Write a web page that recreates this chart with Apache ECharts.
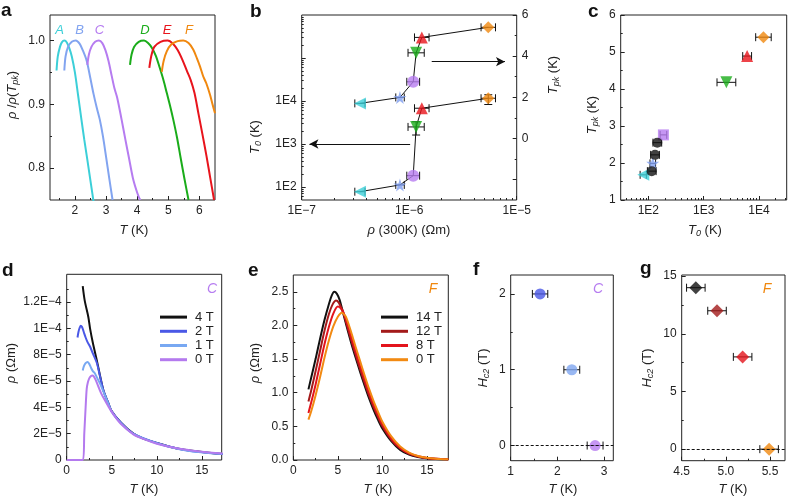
<!DOCTYPE html>
<html><head><meta charset="utf-8">
<script src="https://cdn.jsdelivr.net/npm/echarts@6/dist/echarts.min.js"></script>
<style>html,body{margin:0;padding:0;background:#fff}#c{width:788px;height:498px}</style>
</head><body><div id="c"></div>
<script>
const F = "'Liberation Sans', Arial, Helvetica, sans-serif";
const INK = '#222';

// ---------- Panel a : rho/rho(Tpk) vs T ----------
const aCurveA = [[1.41,0.953],[1.45,0.975],[1.52,0.99],[1.58,0.997],[1.66,1.0],[1.74,0.997],[1.82,0.988],[1.9,0.975],[2.0,0.95],[2.1,0.915],[2.21,0.876],[2.3,0.845],[2.4,0.813],[2.5,0.78],[2.6,0.747]];
const aCurveB = [[1.66,0.953],[1.7,0.975],[1.78,0.99],[1.9,0.998],[2.03,1.0],[2.15,0.995],[2.25,0.985],[2.38,0.968],[2.5,0.94],[2.6,0.916],[2.7,0.895],[2.8,0.876],[2.9,0.85],[3.0,0.818],[3.1,0.785],[3.21,0.75]];
const aCurveC = [[2.4,0.962],[2.45,0.978],[2.53,0.99],[2.65,0.998],[2.77,1.0],[2.88,0.996],[2.98,0.985],[3.08,0.968],[3.18,0.945],[3.27,0.925],[3.36,0.91],[3.5,0.876],[3.62,0.845],[3.74,0.815],[3.86,0.785],[3.97,0.766],[4.05,0.755],[4.1,0.75]];
const aCurveD = [[3.77,0.962],[3.82,0.978],[3.9,0.99],[4.05,0.998],[4.22,1.0],[4.35,0.996],[4.48,0.988],[4.6,0.976],[4.72,0.958],[4.85,0.937],[4.95,0.918],[5.06,0.897],[5.16,0.876],[5.28,0.848],[5.4,0.815],[5.52,0.783],[5.65,0.75]];
const aCurveE = [[4.39,0.957],[4.45,0.975],[4.55,0.99],[4.75,0.998],[4.98,1.0],[5.15,0.995],[5.3,0.985],[5.45,0.97],[5.6,0.952],[5.72,0.938],[5.84,0.918],[5.97,0.885],[6.1,0.852],[6.23,0.818],[6.35,0.784],[6.47,0.75]];
const aCurveF = [[4.79,0.951],[4.85,0.968],[4.95,0.983],[5.1,0.994],[5.3,0.999],[5.48,1.0],[5.65,0.996],[5.8,0.986],[5.92,0.972],[6.02,0.959],[6.12,0.944],[6.22,0.933],[6.34,0.915],[6.42,0.9],[6.5,0.886]];
const aNames = ['A','B','C','D','E','F'];

// ---------- Panel b : T0 and Tpk vs rho(300K) ----------
const bRho   = [3.48e-7, 8.2e-7, 1.09e-6, 1.16e-6, 1.31e-6, 5.44e-6];
const bRhoLo = [3.12e-7, 7.5e-7, 9.5e-7, 9.75e-7, 1.12e-6, 4.66e-6];
const bRhoHi = [3.88e-7, 9.0e-7, 1.25e-6, 1.38e-6, 1.53e-6, 6.35e-6];
const bTpk   = [1.70, 1.99, 2.75, 4.16, 4.91, 5.40];
const bT0    = [78, 112, 184, 2500, 6800, 11600];
const bT0Lo  = [78, 112, 184, 1620, 6800, 8300];
const bT0Hi  = [78, 112, 184, 3300, 6800, 14000];

// ---------- Panel c : Tpk vs T0 ----------
const cT0   = [81, 120, 187, 2570, 6100, 12000];
const cT0Lo = [71, 107, 163, 1740, 5070, 8700];
const cT0Hi = [92, 135, 215, 3800, 7330, 16600];
const cTpk  = [1.68, 1.99, 2.76, 4.18, 4.89, 5.40];
const cBlackT0   = [115, 132, 145];
const cBlackT0Lo = [96, 110, 121];
const cBlackT0Hi = [138, 158, 174];
const cBlackTpk  = [1.78, 2.22, 2.55];

// ---------- Panel d : sample C in field ----------
const d4T = [[1.78,1.32e-4],[2.0,1.21e-4],[2.4,1.086e-4],[2.59,1.0e-4],[2.9,8.9e-5],[3.33,7.6e-5],[3.7,6.4e-5],[4.07,5.3e-5],[4.6,4.35e-5],[5.0,3.7e-5],[6,2.85e-5],[7.4,2.0e-5],[8.5,1.62e-5],[10,1.3e-5],[12.2,8.8e-6],[14.8,6.3e-6],[17.3,4.5e-6]];
const d2T = [[1.2,9.3e-5],[1.3,9.7e-5],[1.42,1.0e-4],[1.55,1.02e-4],[1.7,1.01e-4],[1.9,9.7e-5],[2.1,9.3e-5],[2.3,8.97e-5],[2.6,8.6e-5],[2.9,8.1e-5],[3.33,7.4e-5],[3.7,6.35e-5],[4.07,5.3e-5],[4.6,4.35e-5],[5.0,3.7e-5],[6,2.85e-5],[7.4,2.0e-5],[10,1.29e-5],[13.3,7.3e-6],[17.3,4.6e-6]];
const d1T = [[1.78,6.8e-5],[1.9,7.1e-5],[2.1,7.35e-5],[2.3,7.45e-5],[2.5,7.3e-5],[2.7,7.0e-5],[2.9,6.75e-5],[3.1,6.6e-5],[3.4,6.2e-5],[3.7,5.8e-5],[4.07,5.2e-5],[4.6,4.3e-5],[5.0,3.65e-5],[6,2.8e-5],[7.4,1.98e-5],[10,1.27e-5],[13.3,7.2e-6],[17.3,4.5e-6]];
const d0T = [[0,0],[1.8,0],[1.95,2.0e-5],[2.1,4.0e-5],[2.22,5.4e-5],[2.35,5.9e-5],[2.5,6.2e-5],[2.7,6.38e-5],[2.85,6.42e-5],[3.0,6.35e-5],[3.2,6.1e-5],[3.5,5.6e-5],[3.8,5.1e-5],[4.1,4.7e-5],[4.6,4.1e-5],[5.2,3.45e-5],[6,2.75e-5],[7.4,1.95e-5],[8.5,1.6e-5],[10,1.24e-5],[12.2,9e-6],[14.8,6.5e-6],[17.3,4.9e-6]];
const dLegend = ['4 T','2 T','1 T','0 T'];

// ---------- Panel e : sample F in field ----------
const e14T = [[1.7,1.05],[2,1.22],[2.5,1.5],[3,1.8],[3.5,2.08],[4,2.32],[4.3,2.44],[4.6,2.5],[4.9,2.47],[5.2,2.38],[5.6,2.18],[6,1.98],[6.5,1.74],[7,1.52],[7.5,1.31],[8,1.11],[8.5,0.92],[9,0.75],[9.5,0.6],[10,0.47],[11,0.28],[12,0.15],[13,0.08],[14,0.045],[15,0.025],[16,0.015],[17.4,0.01]];
const e12T = [[1.7,0.87],[2,1.03],[2.5,1.32],[3,1.62],[3.5,1.92],[4,2.17],[4.4,2.31],[4.8,2.37],[5.1,2.34],[5.4,2.26],[5.6,2.2],[6,2.01],[6.5,1.78],[7,1.56],[7.5,1.35],[8,1.15],[8.5,0.96],[9,0.79],[9.5,0.64],[10,0.5],[11,0.3],[12,0.17],[13,0.09],[14,0.05],[15,0.028],[16,0.017],[17.4,0.01]];
const e8T  = [[1.7,0.7],[2,0.85],[2.5,1.12],[3,1.42],[3.5,1.72],[4,1.98],[4.5,2.18],[5.0,2.28],[5.3,2.26],[5.6,2.2],[6,2.05],[6.5,1.83],[7,1.61],[7.5,1.4],[8,1.2],[8.5,1.0],[9,0.83],[9.5,0.67],[10,0.53],[11,0.32],[12,0.18],[13,0.1],[14,0.055],[15,0.03],[16,0.018],[17.4,0.011]];
const e0T  = [[1.7,0.6],[2,0.72],[2.5,0.96],[3,1.23],[3.5,1.52],[4,1.78],[4.5,1.99],[5,2.13],[5.44,2.19],[5.8,2.15],[6,2.1],[6.5,1.9],[7,1.68],[7.5,1.47],[8,1.26],[8.5,1.06],[9,0.88],[9.5,0.72],[10,0.57],[11,0.35],[12,0.2],[13,0.11],[14,0.06],[15,0.033],[16,0.02],[17.4,0.012]];
const eLegend = ['14 T','12 T','8 T','0 T'];

// ---------- Panel f / g : Hc2 vs T ----------
const fT = [1.63, 2.31, 2.81];
const fTLo = [1.465, 2.14, 2.64];
const fTHi = [1.795, 2.48, 2.98];
const fH = [2, 1, 0];
const gT = [4.66, 4.90, 5.19, 5.49];
const gTLo = [4.555, 4.795, 5.085, 5.385];
const gTHi = [4.765, 5.005, 5.295, 5.595];
const gH = [14, 12, 8, 0];

// ---------- tick labels ----------
const aXLabels = [2,3,4,5,6], aXMinor = [1.5,2.5,3.5,4.5,5.5];
const aYLabels = [0.8,0.9,1.0], aYMinor = [0.85,0.95];
const bXLabels = [1e-7,1e-6,1e-5];
const bXMinor = [2e-7,3e-7,4e-7,5e-7,6e-7,7e-7,8e-7,9e-7,2e-6,3e-6,4e-6,5e-6,6e-6,7e-6,8e-6,9e-6];
const bYLabels = [1e2,1e3,1e4], bYMajor = [1e2,1e3,1e4,1e5];
const bYMinor = [60,70,80,90,200,300,400,500,600,700,800,900,2e3,3e3,4e3,5e3,6e3,7e3,8e3,9e3,2e4,3e4,4e4,5e4,6e4,7e4,8e4,9e4,2e5,3e5,4e5,5e5,6e5,7e5,8e5,9e5];
const bY2Labels = [0,2,4,6], bY2Major = [-2,0,2,4,6], bY2Minor = [-1,1,3,5];
const cXLabels = [1e2,1e3,1e4];
const cXMinor = [40,50,60,70,80,90,200,300,400,500,600,700,800,900,2e3,3e3,4e3,5e3,6e3,7e3,8e3,9e3,2e4,3e4];
const cYLabels = [1,2,3,4,5,6], cYMinor = [1.5,2.5,3.5,4.5,5.5];
const dXLabels = [0,5,10,15], dXMinor = [2.5,7.5,12.5];
const dYLabels = [0,2e-5,4e-5,6e-5,8e-5,1e-4,1.2e-4], dYMinor = [1e-5,3e-5,5e-5,7e-5,9e-5,1.1e-4,1.3e-4];
const eYLabels = [0,0.5,1.0,1.5,2.0,2.5], eYMinor = [0.25,0.75,1.25,1.75,2.25];
const fXLabels = [1,2,3], fXMinor = [1.5,2.5];
const fYLabels = [0,1,2], fYMinor = [0.5,1.5];
const gXLabels = [4.5,5.0,5.5], gXMinor = [4.75,5.25];
const gYLabels = [0,5,10,15], gYMinor = [2.5,7.5,12.5];

// ---------- helpers ----------
const MINUS = '\u2212';
function fmtLog(v){ const e = Math.round(Math.log10(v)); return '1E' + String(e).replace('-', MINUS); }
function fmtSci(v){ if (Math.abs(v) < 1e-12) return '0'; const e = Math.floor(Math.log10(v) + 1e-9); const m = Math.round(v / Math.pow(10, e) * 10) / 10; return m + 'E' + String(e).replace('-', MINUS); }
function fmt1(v){ return v.toFixed(1); }

const grids = [], xAxes = [], yAxes = [], series = [], legends = [];
function axisOf(s, gi, pos, minor){
  const o = {
    type: s.log ? 'log' : 'value', gridIndex: gi, position: pos, min: s.min, max: s.max,
    axisLine: {show: false, onZero: false}, splitLine: {show: false}, splitArea: {show: false},
    minorTick: {show: false}, minorSplitLine: {show: false},
    axisTick: {show: true, inside: true, length: minor ? 2 : 4, lineStyle: {color: INK, width: 1}, customValues: minor ? (s.minor || []) : (s.major || s.labels)},
    axisLabel: minor ? {show: false} : {show: true, margin: 5, color: INK, fontSize: 12, fontFamily: F, customValues: s.labels, formatter: s.fmt, hideOverlap: false},
    axisPointer: {show: false}
  };
  if (s.log) o.logBase = 10;
  if (minor && !(s.minor && s.minor.length)) o.axisTick.show = false;
  return o;
}
function panel(rect, xs, ys, ys2){
  const gi = grids.length;
  const base = {left: rect[0], top: rect[1], width: rect[2], height: rect[3], containLabel: false, outerBoundsMode: 'none'};
  grids.push(Object.assign({show: true, borderColor: INK, borderWidth: 1, backgroundColor: 'transparent'}, base));
  grids.push(Object.assign({show: false}, base));
  const xi = xAxes.length;
  xAxes.push(axisOf(xs, gi, 'bottom', false));
  xAxes.push(axisOf(xs, gi + 1, 'bottom', true));
  const yi = yAxes.length;
  yAxes.push(axisOf(ys, gi, 'left', false));
  yAxes.push(axisOf(ys, gi + 1, 'left', true));
  let yi2 = null;
  if (ys2){ yi2 = yAxes.length; yAxes.push(axisOf(ys2, gi, 'right', false)); yAxes.push(axisOf(ys2, gi + 1, 'right', true)); }
  return {xi, yi, yi2};
}
function lineS(p, data, color, width, name, yi){
  return {type: 'line', name: name, xAxisIndex: p.xi, yAxisIndex: yi == null ? p.yi : yi, data: data,
    symbol: 'none', showSymbol: false, smooth: 0.3, silent: true, z: 2,
    lineStyle: {color: color, width: width}, itemStyle: {color: color}};
}
function errS(xi, yi, xs, ys, lo, hi, ylo, yhi){
  const data = xs.map((x, i) => [x, ys[i], lo[i], hi[i], ylo ? ylo[i] : ys[i], yhi ? yhi[i] : ys[i]]);
  return {type: 'custom', xAxisIndex: xi, yAxisIndex: yi, z: 3, silent: true, clip: false,
    dimensions: ['x','y','xl','xh','yl','yh'], encode: {x: 0, y: 1}, data: data,
    renderItem: function(params, api){
      const y = api.value(1), xl = api.value(2), xh = api.value(3), yl = api.value(4), yh = api.value(5), x = api.value(0);
      const p1 = api.coord([xl, y]), p2 = api.coord([xh, y]);
      const st = {stroke: '#111', lineWidth: 1};
      const cap = 4;
      const ch = [
        {type: 'line', shape: {x1: p1[0], y1: p1[1], x2: p2[0], y2: p2[1]}, style: st},
        {type: 'line', shape: {x1: p1[0], y1: p1[1] - cap, x2: p1[0], y2: p1[1] + cap}, style: st},
        {type: 'line', shape: {x1: p2[0], y1: p2[1] - cap, x2: p2[0], y2: p2[1] + cap}, style: st}
      ];
      if (yl !== yh){
        const q1 = api.coord([x, yl]), q2 = api.coord([x, yh]);
        ch.push({type: 'line', shape: {x1: q1[0], y1: q1[1], x2: q2[0], y2: q2[1]}, style: st});
        ch.push({type: 'line', shape: {x1: q1[0] - cap, y1: q1[1], x2: q1[0] + cap, y2: q1[1]}, style: st});
        ch.push({type: 'line', shape: {x1: q2[0] - cap, y1: q2[1], x2: q2[0] + cap, y2: q2[1]}, style: st});
      }
      return {type: 'group', children: ch};
    }};
}
const STAR = 'path://M50,0 L61,35 L98,35 L68,57 L79,91 L50,70 L21,91 L32,57 L2,35 L39,35 Z';
const sampleStyle = [
  {symbol: 'triangle', rot: 90, color: '#3ccfd8'},
  {symbol: STAR, rot: 0, color: '#7f9ff0', size: 13},
  {symbol: 'circle', rot: 0, color: '#b67cf0'},
  {symbol: 'triangle', rot: 180, color: '#1aac1a'},
  {symbol: 'triangle', rot: 0, color: '#e8141c'},
  {symbol: 'diamond', rot: 0, color: '#f0880f'}
];
function scatS(xi, yi, xs, ys, styles, size){
  const data = xs.map((x, i) => ({value: [x, ys[i]], symbol: styles[i].symbol, symbolRotate: styles[i].rot || 0,
    symbolSize: styles[i].size || size, itemStyle: {color: styles[i].color}}));
  return {type: 'scatter', xAxisIndex: xi, yAxisIndex: yi, data: data, z: 4, silent: true, clip: false};
}

// ---------- build panels ----------
const pa = panel([50, 15, 165, 185],
  {min: 1.2, max: 6.5, labels: aXLabels, minor: aXMinor},
  {min: 0.75, max: 1.04, labels: aYLabels, minor: aYMinor, fmt: fmt1});
const aColors = ['#3ccfd8', '#82a4f0', '#b67cf0', '#1aac1a', '#e8141c', '#f0880f'];
[aCurveA, aCurveB, aCurveC, aCurveD, aCurveE, aCurveF].forEach((c, i) => series.push(lineS(pa, c, aColors[i], 2, 'a' + aNames[i])));

const pb = panel([301.7, 15, 215, 185],
  {log: true, min: 1e-7, max: 1e-5, labels: bXLabels, minor: bXMinor, fmt: fmtLog},
  {log: true, min: 50, max: 1e6, labels: bYLabels, major: bYMajor, minor: bYMinor, fmt: fmtLog},
  {min: -3, max: 6, labels: bY2Labels, major: bY2Major, minor: bY2Minor});
const bUpper = bRho.map((x, i) => [x, bTpk[i]]);
const bLower = bRho.map((x, i) => [x, bT0[i]]);
const bUpLine = lineS(pb, bUpper, '#111', 1, 'bup', pb.yi2); bUpLine.smooth = false;
bUpLine.markLine = {silent: true, symbol: ['none', 'arrow'], symbolSize: [7, 9], label: {show: false},
  lineStyle: {color: '#111', width: 1, type: 'solid'}, data: [[{coord: [1.62e-6, 3.73]}, {coord: [7.78e-6, 3.73]}]]};
const bLoLine = lineS(pb, bLower, '#111', 1, 'blo', pb.yi); bLoLine.smooth = false;
bLoLine.markLine = {silent: true, symbol: ['none', 'arrow'], symbolSize: [7, 9], label: {show: false},
  lineStyle: {color: '#111', width: 1, type: 'solid'}, data: [[{coord: [1.02e-6, 1000]}, {coord: [1.18e-7, 1000]}]]};
series.push(bUpLine, bLoLine);
series.push(errS(pb.xi, pb.yi2, bRho, bTpk, bRhoLo, bRhoHi));
series.push(errS(pb.xi, pb.yi, bRho, bT0, bRhoLo, bRhoHi, bT0Lo, bT0Hi));
series.push(scatS(pb.xi, pb.yi2, bRho, bTpk, sampleStyle, 12));
series.push(scatS(pb.xi, pb.yi, bRho, bT0, sampleStyle, 12));

const pc = panel([620.7, 15, 166, 185],
  {log: true, min: 31.62, max: 31623, labels: cXLabels, minor: cXMinor, fmt: fmtLog},
  {min: 1, max: 6, labels: cYLabels, minor: cYMinor});
const cStyle = sampleStyle.map(s => Object.assign({}, s));
cStyle[2] = {symbol: 'rect', rot: 0, color: '#b67cf0', size: 11};
series.push(errS(pc.xi, pc.yi, cT0, cTpk, cT0Lo, cT0Hi));
series.push(errS(pc.xi, pc.yi, cBlackT0, cBlackTpk, cBlackT0Lo, cBlackT0Hi));
series.push(scatS(pc.xi, pc.yi, cT0, cTpk, cStyle, 12));
series.push(scatS(pc.xi, pc.yi, cBlackT0, cBlackTpk, cBlackT0.map(() => ({symbol: 'circle', color: '#111'})), 10));

const pd = panel([66.7, 274.3, 155, 185.7],
  {min: 0, max: 17.2, labels: dXLabels, minor: dXMinor},
  {min: 0, max: 1.41e-4, labels: dYLabels, minor: dYMinor, fmt: fmtSci});
const dColors = ['#111111', '#4a58e6', '#78a8f2', '#b47aee'];
[d4T, d2T, d1T, d0T].forEach((c, i) => series.push(lineS(pd, c, dColors[i], 2, 'd' + i)));

const pe = panel([293.3, 275, 155, 185],
  {min: 0, max: 17.4, labels: dXLabels, minor: dXMinor},
  {min: 0, max: 2.75, labels: eYLabels, minor: eYMinor, fmt: fmt1});
const eColors = ['#111111', '#a31a1a', '#e3141c', '#f28a12'];
[e14T, e12T, e8T, e0T].forEach((c, i) => series.push(lineS(pe, c, eColors[i], 2, 'e' + i)));

const labelMap = {d0: dLegend[0], d1: dLegend[1], d2: dLegend[2], d3: dLegend[3], e0: eLegend[0], e1: eLegend[1], e2: eLegend[2], e3: eLegend[3]};
function legendAt(left, top, names){
  return {show: true, left: left, top: top, orient: 'vertical', icon: 'rect', itemWidth: 27, itemHeight: 3, itemGap: 0, padding: 0,
    selectedMode: false, data: names.map(n => ({name: n, icon: 'rect'})), formatter: n => labelMap[n],
    textStyle: {color: INK, fontSize: 13, fontFamily: F, lineHeight: 14.2, padding: [0, 0, 0, 3]}};
}
legends.push(legendAt(160, 310, ['d0', 'd1', 'd2', 'd3']));
legends.push(legendAt(381, 310, ['e0', 'e1', 'e2', 'e3']));

const pf = panel([510.7, 275, 102.6, 185.7],
  {min: 1, max: 3.2, labels: fXLabels, minor: fXMinor},
  {min: -0.2, max: 2.25, labels: fYLabels, minor: fYMinor});
const dash = {silent: true, symbol: 'none', label: {show: false}, lineStyle: {color: '#111', width: 1, type: [3, 2]}, data: [{yAxis: 0}]};
series.push(errS(pf.xi, pf.yi, fT, fH, fTLo, fTHi));
const fScat = scatS(pf.xi, pf.yi, fT, fH, [{symbol: 'circle', color: '#4a58e6'}, {symbol: 'circle', color: '#7fa6f0'}, {symbol: 'circle', color: '#b67cf0'}], 11);
fScat.markLine = dash;
series.push(fScat);

const pg = panel([681.7, 275, 103.3, 185.7],
  {min: 4.5, max: 5.67, labels: gXLabels, minor: gXMinor, fmt: fmt1},
  {min: -1, max: 15.1, labels: gYLabels, minor: gYMinor});
series.push(errS(pg.xi, pg.yi, gT, gH, gTLo, gTHi));
const gScat = scatS(pg.xi, pg.yi, gT, gH, [{symbol: 'diamond', color: '#111'}, {symbol: 'diamond', color: '#a31a1a'}, {symbol: 'diamond', color: '#e3141c'}, {symbol: 'diamond', color: '#f0880f'}], 13);
gScat.markLine = JSON.parse(JSON.stringify(dash));
series.push(gScat);

// ---------- texts ----------
const richBase = {
  i: {fontStyle: 'italic', fontSize: 13, fontFamily: F, fill: INK},
  s: {fontStyle: 'italic', fontSize: 9, fontFamily: F, fill: INK, padding: [7, 0, 0, 0]}
};
const titles = [
  ['{i|ρ} /{i|ρ}({i|T}{s|pk})', 12, 95, true],
  ['{i|T} (K)', 134, 230, false],
  ['{i|ρ} (300K) (Ωm)', 409, 230, false],
  ['{i|T}{s|0} (K)', 255, 137, true],
  ['{i|T}{s|pk} (K)', 553, 75, true],
  ['{i|T}{s|pk} (K)', 592, 115, true],
  ['{i|T}{s|0} (K)', 705, 230, false],
  ['{i|ρ} (Ωm)', 11, 363, true],
  ['{i|T} (K)', 144, 489, false],
  ['{i|ρ} (Ωm)', 255, 363, true],
  ['{i|T} (K)', 378, 489, false],
  ['{i|H}{s|c2} (T)', 483, 368, true],
  ['{i|T} (K)', 563, 489, false],
  ['{i|H}{s|c2} (T)', 647, 368, true],
  ['{i|T} (K)', 733, 489, false]
];
const graphics = titles.map(t => ({type: 'text', x: t[1], y: t[2], rotation: t[3] ? Math.PI / 2 : 0, silent: true,
  style: {text: t[0], fontSize: 13, fontFamily: F, fill: INK, align: 'center', verticalAlign: 'middle', rich: richBase}}));
const letters = [['a', 1, 11], ['b', 250, 12], ['c', 588, 12], ['d', 2, 271], ['e', 248, 271], ['f', 473, 270], ['g', 640, 269]];
letters.forEach(l => graphics.push({type: 'text', x: l[1], y: l[2], silent: true,
  style: {text: l[0], fontSize: 19, fontWeight: 'bold', fontFamily: F, fill: '#111', align: 'left', verticalAlign: 'middle'}}));
const aLabelX = [59.5, 79.5, 99.5, 145, 167, 189];
aNames.forEach((n, i) => graphics.push({type: 'text', x: aLabelX[i], y: 30, silent: true,
  style: {text: n, fontSize: 13, fontStyle: 'italic', fontFamily: F, fill: aColors[i], align: 'center', verticalAlign: 'middle'}}));
[['C', 212, 289, '#b67cf0'], ['F', 433, 289, '#f0880f'], ['C', 598, 289, '#b67cf0'], ['F', 767, 289, '#f0880f']].forEach(t =>
  graphics.push({type: 'text', x: t[1], y: t[2], silent: true,
    style: {text: t[0], fontSize: 14, fontStyle: 'italic', fontFamily: F, fill: t[3], align: 'center', verticalAlign: 'middle'}}));

const chart = echarts.init(document.getElementById('c'), null, {renderer: 'canvas'});
chart.setOption({
  animation: false, backgroundColor: '#ffffff',
  textStyle: {fontFamily: F},
  grid: grids, xAxis: xAxes, yAxis: yAxes, series: series, legend: legends, graphic: graphics,
  tooltip: {show: false}
});
</script></body></html>
